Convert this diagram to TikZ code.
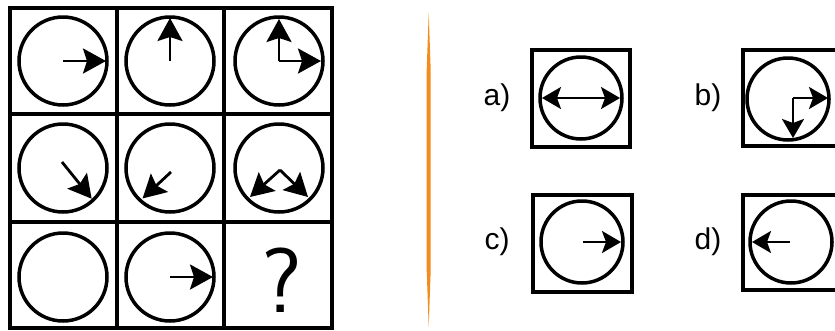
\documentclass[tikz,border=0pt]{standalone}
\usepackage{fontspec}
\setmainfont{Liberation Sans}
\usetikzlibrary{arrows.meta,calc}
\definecolor{orng}{RGB}{242,140,28}
\tikzset{
  bighead/.tip={Stealth[length=23pt,width=25pt,inset=4pt]},
  smallhead/.tip={Stealth[length=19pt,width=22pt,inset=4pt]}}
\begin{document}
\begin{tikzpicture}[x=1pt,y=-1pt,
  cellline/.style={line width=4pt},
  ring/.style={line width=3.5pt},
  arr/.style={line width=2.8pt,-bighead},
  oarr/.style={line width=2.6pt,-smallhead},
  darr/.style={line width=2.2pt,smallhead-smallhead},
  lbl/.style={font=\fontsize{30}{30}\selectfont,inner sep=0pt},
  qmark/.style={font=\sffamily\fontsize{92}{92}\selectfont,inner sep=0pt}]
\useasboundingbox (0,0) rectangle (835,330);
\clip (0,0) rectangle (835,330);
% grid
\draw[cellline] (10,8) rectangle (332,328);
\draw[cellline] (117,8) -- (117,328) (224,8) -- (224,328)
  (10,114) -- (332,114) (10,222) -- (332,222);
% circle centres
\coordinate (c11) at (63,61);
\coordinate (c12) at (170,61);
\coordinate (c13) at (279,61);
\coordinate (c21) at (63,168);
\coordinate (c22) at (170,168);
\coordinate (c23) at (279,168);
\coordinate (c31) at (63,277);
\coordinate (c32) at (170,277);
\foreach \c in {c11,c12,c13,c21,c22,c23,c31,c32}
  \draw[ring] (\c) circle[radius=44pt];
% arrows in grid
\draw[arr] (c11) -- ++(0:43pt);
\draw[arr] (c12) -- ++(90:43pt);
\draw[arr] (c13) -- ++(90:42pt);
\draw[arr] (c13) -- ++(0:42pt);
\coordinate (s21) at (62,162);
\draw[arr] (s21) -- ($(c21)+(-47:42pt)$);
\coordinate (s22) at (171,172);
\draw[arr] (s22) -- ($(c22)+(228:41pt)$);
\coordinate (s23) at (280,170);
\draw[arr] (s23) -- ($(c23)+(225:41pt)$);
\draw[arr] (s23) -- ($(c23)+(315:41pt)$);
\draw[arr] (c32) -- ++(0:43pt);
\node[qmark] (q) at (282,280) {?};
% separator
\fill[orng] (428.7,13) -- (430.7,70) -- (430.7,270) -- (428.7,327)
  -- (426.7,270) -- (426.7,70) -- cycle;
% options
\draw[cellline] (532,50) rectangle (630,147);
\coordinate (oa) at (581,98);
\draw[ring] (oa) circle[radius=41pt];
\draw[darr] ($(oa)+(180:39pt)$) -- ($(oa)+(0:39pt)$);
\node[lbl] (la) at (497,98) {a)};

\draw[cellline] (743,50) rectangle (843,146);
\coordinate (ob) at (788,99);
\draw[ring] (ob) circle[radius=41pt];
\coordinate (kb) at (793,98);
\draw[oarr] (kb) -- (828,98);
\draw[oarr] (kb) -- (793,138);
\node[lbl] (lb) at (708,98) {b)};

\draw[cellline] (533,195) rectangle (632,292);
\coordinate (oc) at (582,242);
\draw[ring] (oc) circle[radius=41pt];
\draw[oarr] (583,242) -- ($(oc)+(0:39pt)$);
\node[lbl] (lc) at (497,242) {c)};

\draw[cellline] (743,195) rectangle (843,290);
\coordinate (od) at (791,242);
\draw[ring] (od) circle[radius=41pt];
\draw[oarr] (790,242) -- ($(od)+(180:39pt)$);
\node[lbl] (ld) at (708,242) {d)};
\end{tikzpicture}
\end{document}
